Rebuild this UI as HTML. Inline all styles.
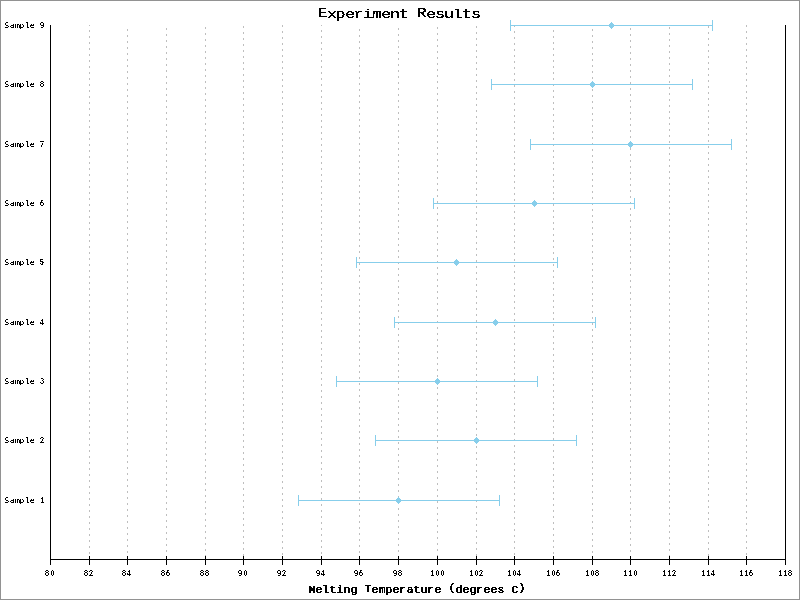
<!DOCTYPE html>
<html lang="en">
<head>
<meta charset="utf-8">
<title>Experiment Results</title>
<style>
html,body{margin:0;padding:0;background:#fff;}
body{width:800px;height:600px;overflow:hidden;}
svg{display:block;}
text{fill:#000;}
.title{font-family:"Liberation Mono","DejaVu Sans Mono",monospace;font-size:13.25px;stroke:#000;stroke-width:0.15px;filter:url(#f-title);}
.xlabel{font-family:"Liberation Mono","DejaVu Sans Mono",monospace;font-size:11.125px;stroke:#000;stroke-width:0.35px;filter:url(#f-xlabel);}
.samples{font-family:"DejaVu Sans Mono","Liberation Mono",monospace;font-size:7.75px;filter:url(#f-samples);}
.ticks{font-family:"Liberation Sans","DejaVu Sans",sans-serif;font-size:8.625px;font-weight:bold;stroke:#000;stroke-width:0.05px;filter:url(#f-ticks);}
</style>
</head>
<body>
<svg width="800" height="600" viewBox="0 0 800 600" role="img" aria-label="Experiment Results">
<defs>
<filter id="f-title" x="0" y="0" width="800" height="600" filterUnits="userSpaceOnUse" color-interpolation-filters="sRGB"><feComponentTransfer><feFuncA type="discrete" tableValues="0 0 0 0 0 0 0 0 0 0 0 0 0 0 0 0 1 1 1 1 1 1 1 1 1 1 1 1 1 1 1 1 1 1 1 1 1 1 1 1"/></feComponentTransfer></filter>
<filter id="f-xlabel" x="0" y="0" width="800" height="600" filterUnits="userSpaceOnUse" color-interpolation-filters="sRGB"><feComponentTransfer><feFuncA type="discrete" tableValues="0 0 0 0 0 0 0 0 0 0 0 0 0 0 0 0 1 1 1 1 1 1 1 1 1 1 1 1 1 1 1 1 1 1 1 1 1 1 1 1"/></feComponentTransfer></filter>
<filter id="f-samples" x="0" y="0" width="800" height="600" filterUnits="userSpaceOnUse" color-interpolation-filters="sRGB"><feComponentTransfer><feFuncA type="discrete" tableValues="0 0 0 0 0 0 0 0 0 0 0 0 0 0 0 0 0 0 1 1 1 1 1 1 1 1 1 1 1 1 1 1 1 1 1 1 1 1 1 1"/></feComponentTransfer></filter>
<filter id="f-ticks" x="0" y="0" width="800" height="600" filterUnits="userSpaceOnUse" color-interpolation-filters="sRGB"><feComponentTransfer><feFuncA type="discrete" tableValues="0 0 0 0 0 0 0 0 0 0 0 0 0 0 0 0 0 0 0 0 0 0 1 1 1 1 1 1 1 1 1 1 1 1 1 1 1 1 1 1"/></feComponentTransfer></filter>
</defs>
<rect x="0" y="0" width="800" height="600" fill="#fff"/>
<!-- image border -->
<g fill="#929292" shape-rendering="crispEdges"><rect x="0" y="0" width="800" height="1"/><rect x="0" y="599" width="800" height="1"/><rect x="0" y="0" width="1" height="600"/><rect x="799" y="0" width="1" height="600"/></g>
<!-- vertical grid -->
<g stroke="#bebebe" stroke-width="1" stroke-dasharray="2 4" shape-rendering="crispEdges" fill="none">
<line x1="89.5" y1="25" x2="89.5" y2="560" stroke-dashoffset="1"/>
<line x1="127.5" y1="25" x2="127.5" y2="560" stroke-dashoffset="2"/>
<line x1="166.5" y1="25" x2="166.5" y2="560" stroke-dashoffset="3"/>
<line x1="205.5" y1="25" x2="205.5" y2="560" stroke-dashoffset="4"/>
<line x1="243.5" y1="25" x2="243.5" y2="560" stroke-dashoffset="5"/>
<line x1="282.5" y1="25" x2="282.5" y2="560" stroke-dashoffset="0"/>
<line x1="321.5" y1="25" x2="321.5" y2="560" stroke-dashoffset="1"/>
<line x1="359.5" y1="25" x2="359.5" y2="560" stroke-dashoffset="2"/>
<line x1="398.5" y1="25" x2="398.5" y2="560" stroke-dashoffset="3"/>
<line x1="437.5" y1="25" x2="437.5" y2="560" stroke-dashoffset="4"/>
<line x1="476.5" y1="25" x2="476.5" y2="560" stroke-dashoffset="5"/>
<line x1="514.5" y1="25" x2="514.5" y2="560" stroke-dashoffset="0"/>
<line x1="553.5" y1="25" x2="553.5" y2="560" stroke-dashoffset="1"/>
<line x1="592.5" y1="25" x2="592.5" y2="560" stroke-dashoffset="2"/>
<line x1="630.5" y1="25" x2="630.5" y2="560" stroke-dashoffset="3"/>
<line x1="669.5" y1="25" x2="669.5" y2="560" stroke-dashoffset="4"/>
<line x1="708.5" y1="25" x2="708.5" y2="560" stroke-dashoffset="5"/>
<line x1="746.5" y1="25" x2="746.5" y2="560" stroke-dashoffset="0"/>
</g>
<!-- data points with error bars -->
<g fill="#87ceeb" shape-rendering="crispEdges">
<rect x="298" y="500" width="202" height="1"/><rect x="298" y="495" width="1" height="11"/><rect x="499" y="495" width="1" height="11"/><rect x="398" y="497" width="1" height="1"/><rect x="397" y="498" width="3" height="1"/><rect x="396" y="499" width="5" height="1"/><rect x="396" y="500" width="5" height="1"/><rect x="396" y="501" width="5" height="1"/><rect x="397" y="502" width="3" height="1"/><rect x="398" y="503" width="1" height="1"/>
<rect x="375" y="440" width="202" height="1"/><rect x="375" y="435" width="1" height="11"/><rect x="576" y="435" width="1" height="11"/><rect x="476" y="437" width="1" height="1"/><rect x="475" y="438" width="3" height="1"/><rect x="474" y="439" width="5" height="1"/><rect x="474" y="440" width="5" height="1"/><rect x="474" y="441" width="5" height="1"/><rect x="475" y="442" width="3" height="1"/><rect x="476" y="443" width="1" height="1"/>
<rect x="336" y="381" width="202" height="1"/><rect x="336" y="376" width="1" height="11"/><rect x="537" y="376" width="1" height="11"/><rect x="437" y="378" width="1" height="1"/><rect x="436" y="379" width="3" height="1"/><rect x="435" y="380" width="5" height="1"/><rect x="435" y="381" width="5" height="1"/><rect x="435" y="382" width="5" height="1"/><rect x="436" y="383" width="3" height="1"/><rect x="437" y="384" width="1" height="1"/>
<rect x="394" y="322" width="202" height="1"/><rect x="394" y="317" width="1" height="11"/><rect x="595" y="317" width="1" height="11"/><rect x="495" y="319" width="1" height="1"/><rect x="494" y="320" width="3" height="1"/><rect x="493" y="321" width="5" height="1"/><rect x="493" y="322" width="5" height="1"/><rect x="493" y="323" width="5" height="1"/><rect x="494" y="324" width="3" height="1"/><rect x="495" y="325" width="1" height="1"/>
<rect x="356" y="262" width="202" height="1"/><rect x="356" y="257" width="1" height="11"/><rect x="557" y="257" width="1" height="11"/><rect x="456" y="259" width="1" height="1"/><rect x="455" y="260" width="3" height="1"/><rect x="454" y="261" width="5" height="1"/><rect x="454" y="262" width="5" height="1"/><rect x="454" y="263" width="5" height="1"/><rect x="455" y="264" width="3" height="1"/><rect x="456" y="265" width="1" height="1"/>
<rect x="433" y="203" width="202" height="1"/><rect x="433" y="198" width="1" height="11"/><rect x="634" y="198" width="1" height="11"/><rect x="534" y="200" width="1" height="1"/><rect x="533" y="201" width="3" height="1"/><rect x="532" y="202" width="5" height="1"/><rect x="532" y="203" width="5" height="1"/><rect x="532" y="204" width="5" height="1"/><rect x="533" y="205" width="3" height="1"/><rect x="534" y="206" width="1" height="1"/>
<rect x="530" y="144" width="202" height="1"/><rect x="530" y="139" width="1" height="11"/><rect x="731" y="139" width="1" height="11"/><rect x="630" y="141" width="1" height="1"/><rect x="629" y="142" width="3" height="1"/><rect x="628" y="143" width="5" height="1"/><rect x="628" y="144" width="5" height="1"/><rect x="628" y="145" width="5" height="1"/><rect x="629" y="146" width="3" height="1"/><rect x="630" y="147" width="1" height="1"/>
<rect x="491" y="84" width="202" height="1"/><rect x="491" y="79" width="1" height="11"/><rect x="692" y="79" width="1" height="11"/><rect x="592" y="81" width="1" height="1"/><rect x="591" y="82" width="3" height="1"/><rect x="590" y="83" width="5" height="1"/><rect x="590" y="84" width="5" height="1"/><rect x="590" y="85" width="5" height="1"/><rect x="591" y="86" width="3" height="1"/><rect x="592" y="87" width="1" height="1"/>
<rect x="510" y="25" width="203" height="1"/><rect x="510" y="20" width="1" height="11"/><rect x="712" y="20" width="1" height="11"/><rect x="611" y="22" width="1" height="1"/><rect x="610" y="23" width="3" height="1"/><rect x="609" y="24" width="5" height="1"/><rect x="609" y="25" width="5" height="1"/><rect x="609" y="26" width="5" height="1"/><rect x="610" y="27" width="3" height="1"/><rect x="611" y="28" width="1" height="1"/>
</g>
<!-- axes and ticks -->
<g fill="#000" shape-rendering="crispEdges">
<rect x="50" y="25" width="1" height="535"/><rect x="785" y="25" width="1" height="535"/><rect x="50" y="559" width="736" height="1"/>
<rect x="50" y="559" width="1" height="6"/><rect x="89" y="556" width="1" height="9"/><rect x="127" y="556" width="1" height="9"/><rect x="166" y="556" width="1" height="9"/><rect x="205" y="556" width="1" height="9"/><rect x="243" y="556" width="1" height="9"/><rect x="282" y="556" width="1" height="9"/><rect x="321" y="556" width="1" height="9"/><rect x="359" y="556" width="1" height="9"/><rect x="398" y="556" width="1" height="9"/><rect x="437" y="556" width="1" height="9"/><rect x="476" y="556" width="1" height="9"/><rect x="514" y="556" width="1" height="9"/><rect x="553" y="556" width="1" height="9"/><rect x="592" y="556" width="1" height="9"/><rect x="630" y="556" width="1" height="9"/><rect x="669" y="556" width="1" height="9"/><rect x="708" y="556" width="1" height="9"/><rect x="746" y="556" width="1" height="9"/><rect x="785" y="559" width="1" height="6"/>
</g>
<g class="title">
<text transform="scale(1.25,1)" x="254.1 261.7 268.5 276.3 282.9 290.5 297.7 305.1 312.1 319.3 327.2 333.3 341.1 348.1 355.3 362.3 369.7 376.9" y="17.5 18 18 18 18 18 18 18 18 18 18 17.5 18 18 18 18 18 18">Experiment Results</text>
</g>
<g class="xlabel">
<text x="308.75 315.75 322.25 329.75 336.75 343.75 350.75 358 364.75 371.75 379 385.5 392.75 399.25 406.75 413.75 420.75 427.25 434.75 442 448.75 455.75 462.75 469.75 476.25 483.75 490.75 497.5 505 511.75 518.5" y="593 593 593 593 593 593 593 593 592.375 593 593 593 593 593 593 593 593 593 593 593 591.375 593 593 593 593 593 593 593 593 593 591.375">Melting Temperature (degrees C)</text>
</g>
<g class="samples">
<text transform="scale(1.05,1)" x="4.1667 9.4048 14.2857 18.4524 23.8095 28.4524" y="28 28 28 28 28 28">Sample</text>
<text transform="scale(1.05,1)" x="4.1667 9.4048 14.2857 18.4524 23.8095 28.4524" y="87 87 87 87 87 87">Sample</text>
<text transform="scale(1.05,1)" x="4.1667 9.4048 14.2857 18.4524 23.8095 28.4524" y="147 147 147 147 147 147">Sample</text>
<text transform="scale(1.05,1)" x="4.1667 9.4048 14.2857 18.4524 23.8095 28.4524" y="206 206 206 206 206 206">Sample</text>
<text transform="scale(1.05,1)" x="4.1667 9.4048 14.2857 18.4524 23.8095 28.4524" y="265 265 265 265 265 265">Sample</text>
<text transform="scale(1.05,1)" x="4.1667 9.4048 14.2857 18.4524 23.8095 28.4524" y="325 325 325 325 325 325">Sample</text>
<text transform="scale(1.05,1)" x="4.1667 9.4048 14.2857 18.4524 23.8095 28.4524" y="384 384 384 384 384 384">Sample</text>
<text transform="scale(1.05,1)" x="4.1667 9.4048 14.2857 18.4524 23.8095 28.4524" y="443 443 443 443 443 443">Sample</text>
<text transform="scale(1.05,1)" x="4.1667 9.4048 14.2857 18.4524 23.8095 28.4524" y="503 503 503 503 503 503">Sample</text>
</g>
<g class="ticks">
<text transform="scale(0.85,1)" x="52.9412 59.4118" y="576 576">80</text>
<text transform="scale(0.85,1)" x="98.8235 104.7059" y="576 576">82</text>
<text transform="scale(0.85,1)" x="143.5294 149.2647" y="576 576">84</text>
<text transform="scale(0.85,1)" x="189.4118 195.2941" y="576 576">86</text>
<text transform="scale(0.85,1)" x="235.2941 241.1765" y="576 576">88</text>
<text transform="scale(0.85,1)" x="280 286.4706" y="576 576">90</text>
<text transform="scale(0.85,1)" x="325.8824 331.7647" y="576 576">92</text>
<text transform="scale(0.85,1)" x="371.7647 377.5" y="576 576">94</text>
<text transform="scale(0.85,1)" x="416.4706 422.3529" y="576 576">96</text>
<text transform="scale(0.85,1)" x="462.3529 468.2353" y="576 576">98</text>
<text transform="scale(0.85,1)" x="506.4706 512.3529 518.2353" y="576 576 576">100</text>
<text transform="scale(0.85,1)" x="552.3529 558.2353 563.5294" y="576 576 576">102</text>
<text transform="scale(0.85,1)" x="597.0588 602.9412 608.0882" y="576 576 576">104</text>
<text transform="scale(0.85,1)" x="642.9412 648.8235 654.1176" y="576 576 576">106</text>
<text transform="scale(0.85,1)" x="688.8235 694.7059 700" y="576 576 576">108</text>
<text transform="scale(0.85,1)" x="733.5294 739.4118 745.2941" y="576 576 576">110</text>
<text transform="scale(0.85,1)" x="779.4118 785.2941 790.5882" y="576 576 576">112</text>
<text transform="scale(0.85,1)" x="825.2941 831.1765 836.3235" y="576 576 576">114</text>
<text transform="scale(0.85,1)" x="870 875.8824 881.1765" y="576 576 576">116</text>
<text transform="scale(0.85,1)" x="915.8824 921.7647 927.0588" y="576 576 576">118</text>
<text transform="scale(0.85,1)" x="47.0588" y="28">9</text>
<text transform="scale(0.85,1)" x="47.0588" y="87">8</text>
<text transform="scale(0.85,1)" x="47.0588" y="147">7</text>
<text transform="scale(0.85,1)" x="47.0588" y="206">6</text>
<text transform="scale(0.85,1)" x="46.9118" y="265">5</text>
<text transform="scale(0.85,1)" x="46.9118" y="325">4</text>
<text transform="scale(0.85,1)" x="47.0588" y="384">3</text>
<text transform="scale(0.85,1)" x="47.0588" y="443">2</text>
<text transform="scale(0.85,1)" x="47.6471" y="503">1</text>
</g>
</svg>
</body>
</html>
